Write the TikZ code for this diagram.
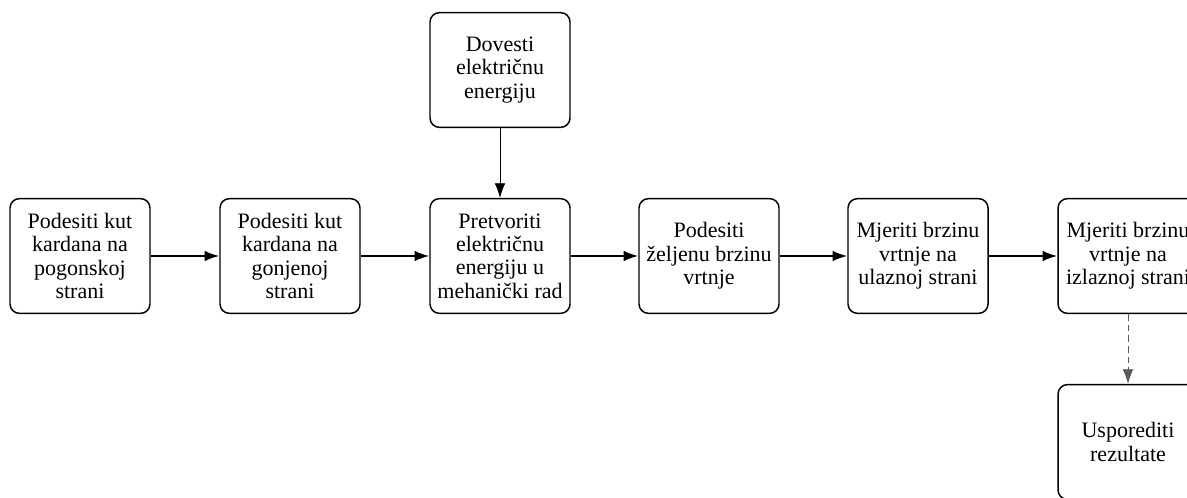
\documentclass[tikz,border=0pt]{standalone}
\usepackage{fontspec}
\setmainfont{Liberation Serif}
\usetikzlibrary{arrows.meta}

\tikzset{
    stepbox/.style={draw, line width=1.1pt, rounded corners=7pt, align=center,
        minimum width=105pt, minimum height=86pt, inner sep=2pt,
        font=\fontsize{16.5}{17.5}\selectfont},
    flow/.style={-{Latex[length=11pt,width=8pt]}, line width=1.5pt},
    feed/.style={-{Latex[length=11pt,width=8pt]}, line width=0.7pt},
    check/.style={-{Latex[length=11pt,width=8pt]}, line width=0.7pt, gray!70!black, dash pattern=on 5pt off 3pt}
}

\begin{document}
\begin{tikzpicture}[x=0.75pt, y=-0.75pt]
    \useasboundingbox (0,0) rectangle (1187,498);
    \clip (0,0) rectangle (1187,498);

    % Main chain
    \node[stepbox] (kutpog) at (80,256) {Podesiti kut\\kardana na\\pogonskoj\\strani};
    \node[stepbox] (kutgon) at (290,256) {Podesiti kut\\kardana na\\gonjenoj\\strani};
    \node[stepbox] (pretv)  at (500,256) {Pretvoriti\\električnu\\energiju u\\mehanički rad};
    \node[stepbox] (brzina) at (709,256) {Podesiti\\željenu brzinu\\vrtnje};
    \node[stepbox] (ulaz)   at (918,256) {Mjeriti brzinu\\vrtnje na\\ulaznoj strani};
    \node[stepbox] (izlaz)  at (1128,256) {Mjeriti brzinu\\vrtnje na\\izlaznoj strani};

    % Input and result
    \node[stepbox] (struja) at (500,70) {Dovesti\\električnu\\energiju};
    \node[stepbox] (rezult) at (1128,442) {Usporediti\\rezultate};

    % Arrows
    \draw[flow] (kutpog) -- (kutgon);
    \draw[flow] (kutgon) -- (pretv);
    \draw[flow] (pretv) -- (brzina);
    \draw[flow] (brzina) -- (ulaz);
    \draw[flow] (ulaz) -- (izlaz);
    \draw[feed] (struja) -- (pretv);
    \draw[check] (izlaz) -- (rezult);
\end{tikzpicture}
\end{document}
